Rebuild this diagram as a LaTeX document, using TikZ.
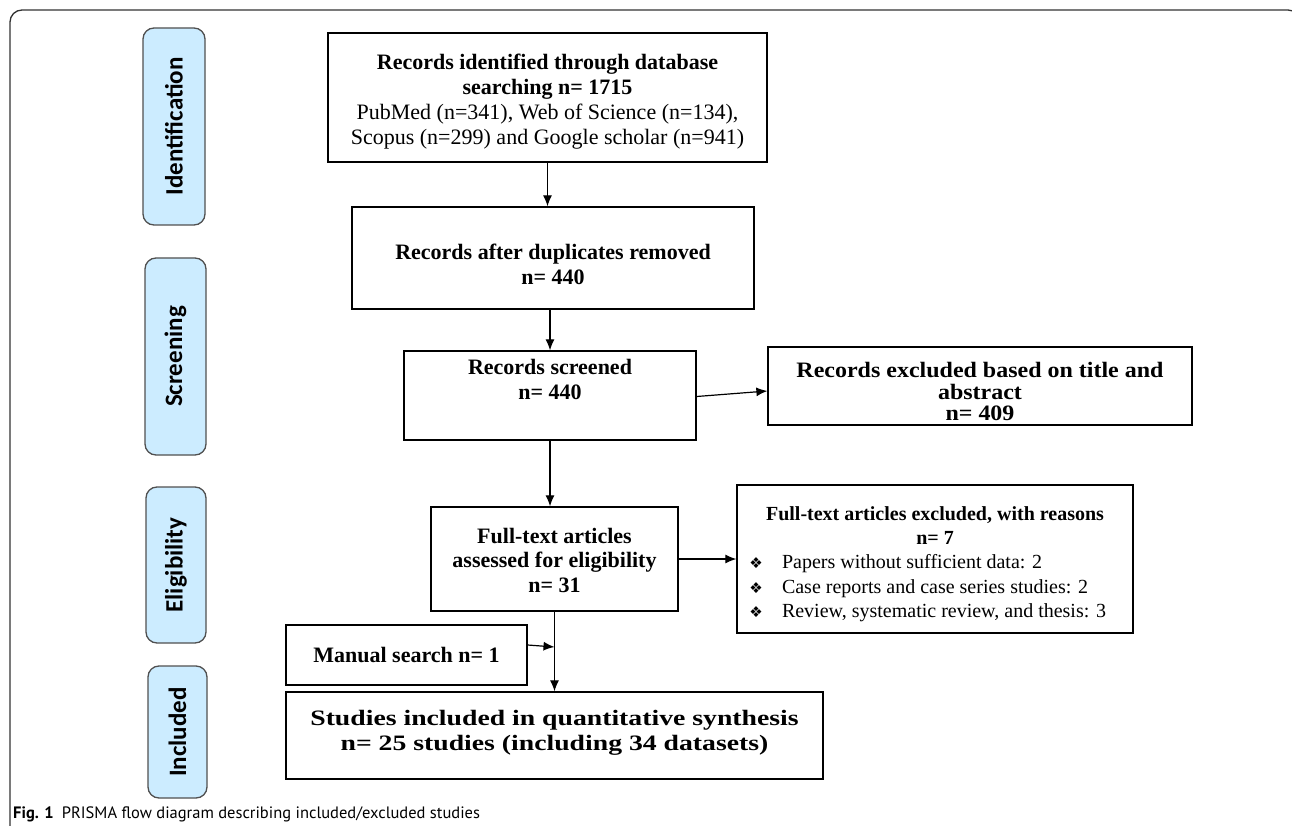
\documentclass[tikz,border=0pt]{standalone}
\usepackage{fontspec}
\usepackage{graphicx}
\setmainfont{Liberation Serif}
\newfontfamily\labelfont{Carlito}
\newfontfamily\capfont{PT Sans}
\newfontfamily\symfont{DejaVu Sans}
\usetikzlibrary{arrows.meta}
\definecolor{phasefill}{RGB}{204,236,255}
\definecolor{phaseline}{RGB}{80,80,80}
\definecolor{frameline}{RGB}{50,50,50}
\newcommand{\bul}{{\symfont\fontsize{15}{15}\selectfont ❖}}
\newcommand{\bulline}[1]{\makebox[396pt][l]{\hspace{13pt}\makebox[12pt]{\bul}\hspace{20pt}#1}}
\newcommand{\wide}[2]{\scalebox{#1}[1]{#2}}
\tikzset{
  box/.style={draw, line width=1.3pt, fill=white, align=center, inner sep=0pt,
    font=\fontsize{22}{25}\selectfont\bfseries},
  phase/.style={draw=phaseline, line width=1.3pt, fill=phasefill, rounded corners=11pt,
    rotate=90, inner sep=0pt, font=\labelfont\bfseries\fontsize{25}{25}\selectfont},
  arr/.style={line width=1.2pt, -{Latex[length=11pt,width=9pt]}},
}
\begin{document}
\begin{tikzpicture}[x=1pt,y=-1pt]
\useasboundingbox (0,0) rectangle (1292,826);
% outer frame
\draw[frameline, line width=1.3pt, rounded corners=12pt] (10,840) -- (10,10) -- (1300,10) -- (1300,840);
% phase labels
\node[phase, minimum width=197pt, minimum height=62pt] (pid) at (174,126.5) {Identification};
\node[phase, minimum width=197pt, minimum height=61pt] (psc) at (175.5,356.5) {Screening};
\node[phase, minimum width=156pt, minimum height=60pt] (pel) at (176,565) {Eligibility};
\node[phase, minimum width=132pt, minimum height=59pt] (pin) at (177.5,732) {Included};
% boxes
\node[box, minimum width=439pt, minimum height=129pt] (b1) at (547.5,97.5)
  {\rule{0pt}{23pt}Records identified through database\\ searching n= 1715\\
   \mdseries PubMed (n=341), Web of Science (n=134),\\
   \mdseries Scopus (n=299) and Google scholar (n=941)};
\node[box, minimum width=402pt, minimum height=102pt] (b2) at (553,258)
  {\rule{0pt}{29pt}Records after duplicates removed\\ n= 440};
\node[box, minimum width=292pt, minimum height=89pt] (b3) at (550,395.5)
  {Records screened\\ n= 440\rule[-33pt]{0pt}{33pt}};
\node[box, minimum width=424pt, minimum height=78pt, font=\fontsize{22}{21.5}\selectfont\bfseries] (ex1) at (980,386)
  {\rule{0pt}{27pt}\wide{1.09}{Records excluded based on title and}\\ \wide{1.09}{abstract}\\ \wide{1.09}{n= 409}};
\node[box, minimum width=247pt, minimum height=104pt, font=\fontsize{22}{24.5}\selectfont\bfseries] (b4) at (554.5,559)
  {\rule{0pt}{18pt}Full-text articles\\ assessed for eligibility\\ n= 31};
\node[box, minimum width=396pt, minimum height=148pt, font=\fontsize{20}{24.25}\selectfont] (ex2) at (935,559)
  {\rule{0pt}{24pt}\textbf{Full-text articles excluded, with reasons}\\ \textbf{n= 7}\\
   \bulline{Papers without sufficient data: 2}\\
   \bulline{Case reports and case series studies: 2}\\
   \bulline{Review, systematic review, and thesis: 3}};
\node[box, minimum width=241pt, minimum height=60pt] (man) at (406.5,655)
  {Manual search n= 1};
\node[box, minimum width=537pt, minimum height=87pt] (fin) at (554.5,735.5)
  {\wide{1.26}{Studies included in quantitative synthesis}\\
   \wide{1.26}{n= 25 studies (including 34 datasets)}\rule[-10pt]{0pt}{10pt}};
% connectors
\coordinate (j) at (554.5,647);
\draw[arr] (b1.south) -- (b1.south |- b2.north);
\draw[arr] (b3.north |- b2.south) -- (b3.north);
\draw[arr] ([yshift=-1pt]b3.east) -- ([yshift=-5pt]ex1.west);
\draw[arr] (b3.south) -- (b3.south |- b4.north);
\draw[arr] (b4.east) -- (ex2.west);
\draw[arr] (b4.south) -- (b4.south |- fin.north);
\draw[arr] ([yshift=10pt]man.east) -- (j);
% caption
\node[anchor=base west, inner sep=0pt, font=\capfont\fontsize{16.5}{19}\selectfont] (cap) at (13,818)
  {\textbf{Fig. 1}\hspace{8pt}PRISMA flow diagram describing included/excluded studies};
\end{tikzpicture}
\end{document}
